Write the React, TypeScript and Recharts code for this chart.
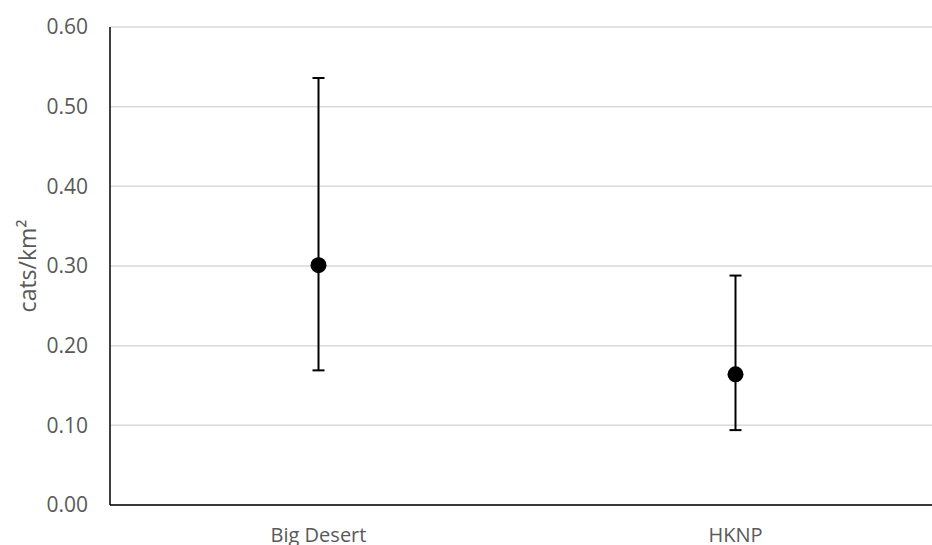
import { ComposedChart, Line, XAxis, YAxis, CartesianGrid, ErrorBar } from "recharts";

const sites = ["Big Desert", "HKNP"];
const density = [0.301, 0.164];
const lowerCI = [0.169, 0.094];
const upperCI = [0.536, 0.288];
const yTicks = [0, 0.1, 0.2, 0.3, 0.4, 0.5, 0.6];

const chartData = sites.map((site, i) => ({
  site,
  density: density[i],
  ci: [density[i] - lowerCI[i], upperCI[i] - density[i]],
}));

const font = "'Open Sans', sans-serif";

export default function App() {
  return (
    <div style={{ position: "absolute", left: 0, top: 0, width: 932, height: 545, overflow: "hidden", background: "#fff" }}>
      <ComposedChart width={944} height={560} data={chartData} margin={{ top: 27, right: 0, left: 0, bottom: 25 }}>
        <CartesianGrid horizontal vertical={false} stroke="#d9d9d9" strokeWidth={1.5} />
        <XAxis
          dataKey="site"
          scale="band"
          height={30}
          axisLine={{ stroke: "#000", strokeWidth: 1.5 }}
          tickLine={false}
          tickSize={0}
          tickMargin={23}
          tick={{ fill: "#595959", fontSize: 20, fontFamily: font }}
        />
        <YAxis
          width={110}
          domain={[0, 0.6]}
          ticks={yTicks}
          tickFormatter={(v: number) => v.toFixed(2)}
          axisLine={{ stroke: "#000", strokeWidth: 1.5 }}
          tickLine={false}
          tickSize={0}
          tickMargin={22}
          tick={{ fill: "#595959", fontSize: 21, fontFamily: font }}
          label={{ value: "cats/km²", angle: -90, position: "center", dx: -27, fill: "#595959", fontSize: 23, fontFamily: font }}
        />
        <Line
          dataKey="density"
          stroke="none"
          isAnimationActive={false}
          dot={{ r: 8, fill: "#000", stroke: "#000", strokeWidth: 0 }}
          activeDot={false}
        >
          <ErrorBar dataKey="ci" direction="y" width={6} stroke="#000" strokeWidth={2} />
        </Line>
      </ComposedChart>
    </div>
  );
}
